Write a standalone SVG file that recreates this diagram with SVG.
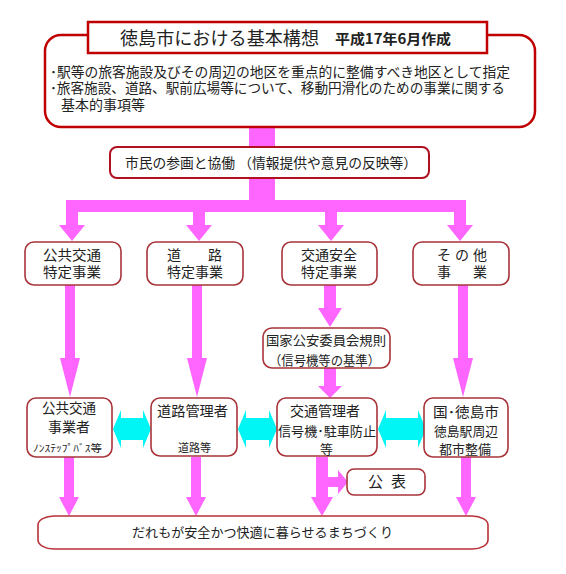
<svg xmlns="http://www.w3.org/2000/svg" width="566" height="574" viewBox="0 0 566 574">
<style>
text{font-family:"Noto Sans CJK JP","Noto Sans CJK SC",sans-serif;fill:#222;}
.pk{fill:#FF66FF;}
.cy{fill:#00F5F5;}
.bx{fill:#fff;stroke:#A8343A;stroke-width:1.6;}
.rd{fill:#fff;stroke:#C00000;stroke-width:2.5;}
.t14{font-size:14px;}
.t13{font-size:13px;}
</style>
<rect width="566" height="574" fill="#fff"/>
<g id="connectors">
  <rect class="pk" x="249" y="126" width="26" height="22"/>
  <rect class="pk" x="249" y="177" width="26" height="25"/>
  <rect class="pk" x="66" y="200" width="400" height="12"/>
  <path class="pk" d="M66,212H78V225H85L72,241L59,225H66Z"/>
  <path class="pk" d="M193,212H205V225H212L199,241L186,225H193Z"/>
  <path class="pk" d="M325,212H337V225H344L331,241L318,225H325Z"/>
  <path class="pk" d="M454,212H466V225H473L460,241L447,225H454Z"/>
  <path class="pk" d="M65,285H75V358H80L70,397L60,358H65Z"/>
  <path class="pk" d="M192,285H202V358H207L197,397L187,358H192Z"/>
  <path class="pk" d="M458,285H468V358H473L463,397L453,358H458Z"/>
  <path class="pk" d="M324,285H336V308H342L330,327L318,308H324Z"/>
  <path class="pk" d="M324,368H336V386H342L330,398L318,386H324Z"/>
  <path class="pk" d="M64,457H74V497H79L69,516L59,497H64Z"/>
  <path class="pk" d="M191,457H201V497H206L196,516L186,497H191Z"/>
  <path class="pk" d="M461,457H471V497H476L466,516L456,497H461Z"/>
  <path class="pk" d="M316,457H328V477H338V470L348,482L338,494V487H328V497H333L322,516L311,497H316Z"/>
  <path class="cy" d="M113,429L121,410V418H143V410L151,429L143,448V440H121V448Z"/>
  <path class="cy" d="M238,429L246,410V418H269V410L277,429L269,448V440H246V448Z"/>
  <path class="cy" d="M378,429L386,410V418H418V410L426,429L418,448V440H386V448Z"/>
</g>
<g id="kihon">
  <rect x="45" y="35" width="490" height="92" rx="16" fill="#fff" stroke="#C00000" stroke-width="2.5"/>
  <rect class="rd" x="88" y="22" width="399" height="31"/>
  <text x="120" y="45" font-size="18" textLength="199" lengthAdjust="spacingAndGlyphs">徳島市における基本構想</text>
  <text x="335" y="44" font-size="14" font-weight="bold" textLength="116" lengthAdjust="spacingAndGlyphs">平成17年6月作成</text>
  <text class="t14" x="50" y="77" textLength="460" lengthAdjust="spacingAndGlyphs">･駅等の旅客施設及びその周辺の地区を重点的に整備すべき地区として指定</text>
  <text class="t14" x="50" y="93" textLength="455" lengthAdjust="spacingAndGlyphs">･旅客施設、道路、駅前広場等について、移動円滑化のための事業に関する</text>
  <text class="t14" x="61" y="110" textLength="84" lengthAdjust="spacingAndGlyphs">基本的事項等</text>
</g>
<g id="shimin">
  <rect x="110" y="147" width="319" height="31" rx="7" fill="#fff" stroke="#B01020" stroke-width="2"/>
  <text class="t14" x="125" y="168" textLength="292" lengthAdjust="spacingAndGlyphs">市民の参画と協働 （情報提供や意見の反映等）</text>
</g>
<g id="koukyou-jigyou">
  <rect class="bx" x="25" y="242" width="96" height="43" rx="9"/>
  <text class="t14" x="43" y="260" textLength="58" lengthAdjust="spacingAndGlyphs">公共交通</text>
  <text class="t14" x="43" y="277" textLength="58" lengthAdjust="spacingAndGlyphs">特定事業</text>
</g>
<g id="douro-jigyou">
  <rect class="bx" x="147" y="242" width="96" height="43" rx="9"/>
  <text class="t14" x="167" y="260" textLength="55" lengthAdjust="spacing">道　路</text>
  <text class="t14" x="167" y="277" textLength="56" lengthAdjust="spacingAndGlyphs">特定事業</text>
</g>
<g id="koutsuanzen-jigyou">
  <rect class="bx" x="282" y="242" width="95" height="43" rx="9"/>
  <text class="t14" x="301" y="260" textLength="56" lengthAdjust="spacingAndGlyphs">交通安全</text>
  <text class="t14" x="301" y="277" textLength="56" lengthAdjust="spacingAndGlyphs">特定事業</text>
</g>
<g id="sonota-jigyou">
  <rect class="bx" x="413" y="242" width="96" height="43" rx="9"/>
  <text class="t14" x="437" y="260" textLength="50" lengthAdjust="spacing">その他</text>
  <text class="t14" x="437" y="277" textLength="50" lengthAdjust="spacing">事　業</text>
</g>
<g id="kokka-kouan">
  <rect class="bx" x="263" y="328" width="127" height="40" rx="9"/>
  <text class="t13" x="266" y="345" textLength="120" lengthAdjust="spacingAndGlyphs">国家公安委員会規則</text>
  <text class="t13" x="269" y="365" textLength="111" lengthAdjust="spacingAndGlyphs">（信号機等の基準）</text>
</g>
<g id="koukyou-jigyousha">
  <rect class="bx" x="27" y="398" width="85" height="59" rx="9"/>
  <text class="t14" x="42" y="413" textLength="54" lengthAdjust="spacingAndGlyphs">公共交通</text>
  <text class="t14" x="48" y="432" textLength="42" lengthAdjust="spacingAndGlyphs">事業者</text>
  <text x="33" y="452" font-size="10" textLength="69" lengthAdjust="spacingAndGlyphs">ﾉﾝｽﾃｯﾌﾟﾊﾞｽ等</text>
</g>
<g id="douro-kanrisha">
  <rect class="bx" x="151" y="398" width="86" height="58" rx="9"/>
  <text class="t14" x="157" y="416" textLength="71" lengthAdjust="spacingAndGlyphs">道路管理者</text>
  <text x="178" y="452" font-size="11" textLength="33" lengthAdjust="spacingAndGlyphs">道路等</text>
</g>
<g id="koutsu-kanrisha">
  <rect class="bx" x="277" y="398" width="100" height="58" rx="9"/>
  <text class="t14" x="290" y="416" textLength="70" lengthAdjust="spacingAndGlyphs">交通管理者</text>
  <text class="t13" x="278" y="436" textLength="98" lengthAdjust="spacingAndGlyphs">信号機･駐車防止</text>
  <text class="t13" x="320" y="454">等</text>
</g>
<g id="kuni-tokushima">
  <rect class="bx" x="424" y="398" width="84" height="59" rx="9"/>
  <text class="t14" x="433" y="417" textLength="66" lengthAdjust="spacingAndGlyphs">国･徳島市</text>
  <text class="t13" x="434" y="436" textLength="64" lengthAdjust="spacingAndGlyphs">徳島駅周辺</text>
  <text class="t13" x="439" y="454" textLength="52" lengthAdjust="spacingAndGlyphs">都市整備</text>
</g>
<g id="kouhyou">
  <rect class="bx" x="347" y="469" width="78" height="26" rx="7"/>
  <text x="368" y="487" font-size="15" textLength="38" lengthAdjust="spacing">公　表</text>
</g>
<g id="machizukuri">
  <rect x="38" y="516" width="450" height="33" rx="16" ry="9" fill="#fff" stroke="#B83038" stroke-width="1.6"/>
  <text class="t13" x="132" y="537" textLength="261" lengthAdjust="spacingAndGlyphs">だれもが安全かつ快適に暮らせるまちづくり</text>
</g>
</svg>
